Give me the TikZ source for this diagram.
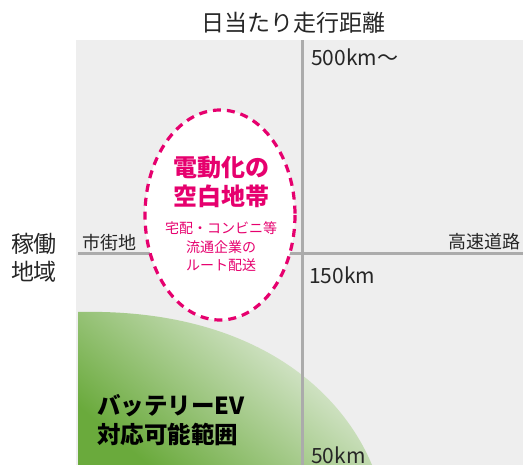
\documentclass[tikz,border=0pt]{standalone}
\usepackage{fontspec}
\setmainfont{Noto Sans CJK JP}
\definecolor{bggray}{HTML}{EEEEEE}
\definecolor{axisgray}{HTML}{ABABAB}
\definecolor{zonepink}{HTML}{E6006E}
\definecolor{evdark}{HTML}{6AAA3C}
\definecolor{evlight}{HTML}{EDF2EA}
\tikzset{
  axislbl/.style={font=\fontsize{18}{20}\selectfont, text=black!85, inner sep=0pt},
  kmlbl/.style={font=\fontsize{21}{24}\selectfont, text=black!85, inner sep=0pt, anchor=west},
  titlelbl/.style={font=\fontsize{23}{28}\selectfont, text=black!85, inner sep=0pt, align=center},
  pinklbl/.style={text=zonepink, inner sep=0pt, align=center},
}
\begin{document}
\begin{tikzpicture}[x=1pt,y=-1pt]
    \useasboundingbox (0,0) rectangle (523,465);
    \fill[bggray] (76,40) rectangle (523,465);%背景
    % バッテリーEVの範囲
    \shade[top color=evlight, bottom color=evdark, shading angle=-40]
        (78,465) -- (78,312) .. controls (250,308) and (340,388) .. (372,465) -- cycle;
    \draw[axisgray, line width=3pt] (302,40) -- (302,465);
    \draw[axisgray, line width=3pt] (78,254) -- (523,254);
    % 空白地帯
    \draw[zonepink, fill=white, line width=3.2pt, dash pattern=on 8pt off 6pt]
        (220,215) ellipse [x radius=75, y radius=105];
    \node[titlelbl] (title) at (293,23) {日当たり走行距離};
    \node[titlelbl] (region) at (34,258) {稼働\\地域};
    \node[kmlbl] (km500) at (311,57) {500km～};
    \node[kmlbl] (km150) at (309,275) {150km};
    \node[kmlbl] (km50) at (311,455) {50km};
    \node[axislbl, anchor=west] (city) at (82,243) {市街地};
    \node[axislbl, anchor=east] (highway) at (521,242) {高速道路};
    \node[pinklbl, font=\fontsize{24}{29}\selectfont\bfseries] (gap) at (221,182) {電動化の\\空白地帯};
    \node[pinklbl, font=\fontsize{14}{18.5}\selectfont] (route) at (221,247) {宅配・コンビニ等\\流通企業の\\ルート配送};
    \node[anchor=west, inner sep=0pt, align=left, font=\fontsize{23.5}{29}\selectfont\bfseries]
        (ev) at (97,420) {バッテリーEV\\対応可能範囲};
\end{tikzpicture}
\end{document}
